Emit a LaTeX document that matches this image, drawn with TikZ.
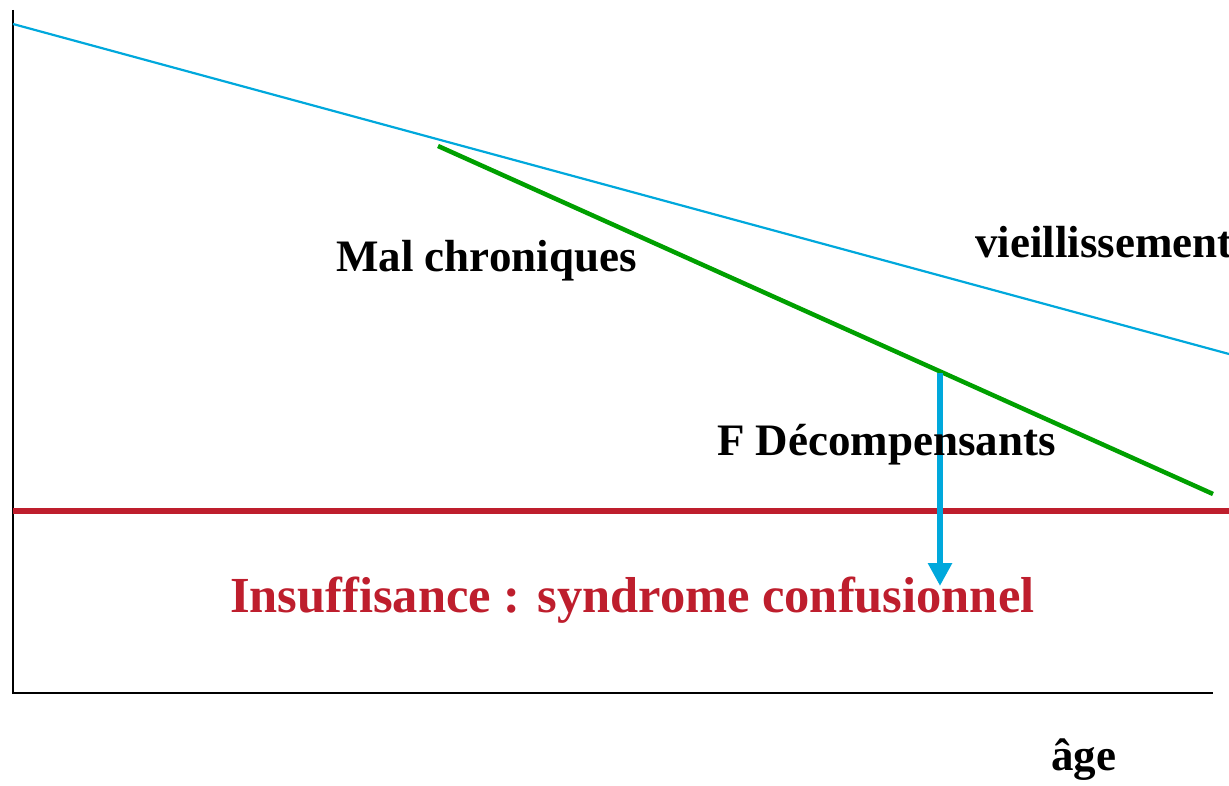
\documentclass[tikz,border=0pt]{standalone}
\usepackage{fontspec}
\setmainfont{Liberation Serif}[Ligatures=NoCommon]
\usetikzlibrary{arrows.meta}
\definecolor{agecyan}{RGB}{0,168,220}
\definecolor{chrgreen}{RGB}{0,160,0}
\definecolor{insred}{RGB}{190,30,45}
\tikzset{
  lbl/.style={inner sep=0pt, anchor=base west, font=\bfseries\fontsize{45}{54}\selectfont},
  bigred/.style={inner sep=0pt, anchor=base west, text=insred, font=\bfseries\fontsize{50.5}{60}\selectfont},
  axis/.style={line width=2.8pt, black},
}
\begin{document}
\begin{tikzpicture}[x=1pt,y=-1pt]
\useasboundingbox (0,0) rectangle (1229,786);
% axes
\coordinate (ytop) at (13,10);
\coordinate (orig) at (13,693);
\coordinate (xend) at (1213,693);
\draw[axis] (ytop) -- (orig) -- (xend);
% aging line
\coordinate (a1) at (13,24);
\coordinate (a2) at (1229,354);
\draw[agecyan, line width=2.2pt] (a1) -- (a2);
% threshold
\coordinate (r1) at (13,511);
\coordinate (r2) at (1229,511);
\draw[insred, line width=6.5pt] (r1) -- (r2);
% chronic line
\coordinate (g1) at (438,146);
\coordinate (g2) at (1213,494);
\draw[chrgreen, line width=4.5pt] (g1) -- (g2);
% arrow
\coordinate (b1) at (940,373);
\coordinate (b2) at (940,586);
\draw[agecyan, line width=6.5pt, -{Triangle[length=23pt,width=23pt]}] (b1) -- (b2);
% labels
\node[lbl] (mal) at (336,272) {Mal chroniques};
\node[lbl] (vie) at (975,258) {vieillissement};
\node[lbl] (fdec) at (717,455) {F Décompensants};
\node[bigred] (ins) at (230,612) {Insuffisance : syndrome confusionnel};
\node[lbl] (age) at (1051,770) {âge};
\end{tikzpicture}
\end{document}
